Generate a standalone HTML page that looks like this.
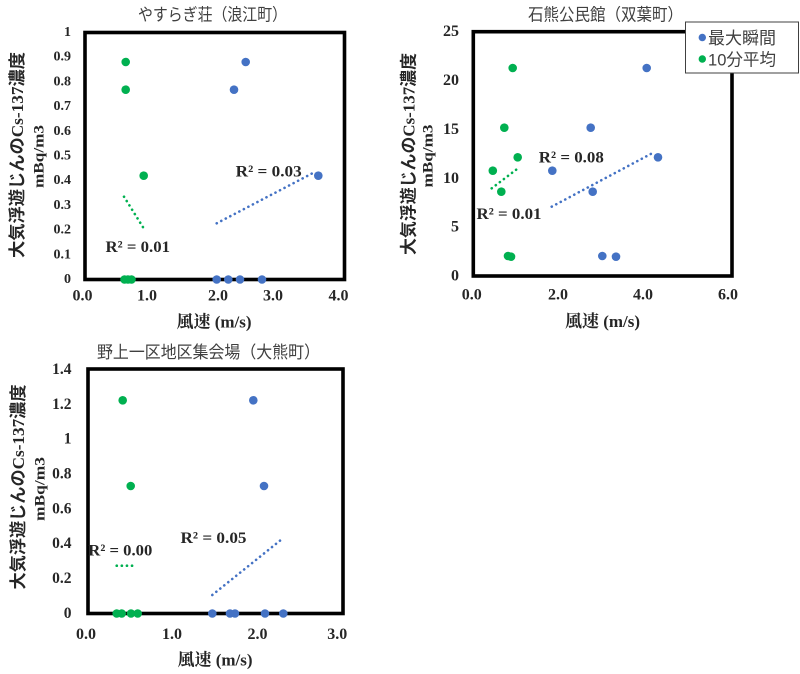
<!DOCTYPE html>
<html>
<head>
<meta charset="utf-8">
<style>
  html,body{margin:0;padding:0;background:#fff;}
  svg{display:block;}
  .tt{font-family:"Liberation Sans","Noto Sans CJK JP",sans-serif;font-size:17px;fill:#404040;}
  .yt{font-family:"Liberation Serif","Noto Serif CJK SC",serif;font-weight:bold;fill:#262626;text-anchor:end;dominant-baseline:central;}
  .xt{font-family:"Liberation Serif","Noto Serif CJK SC",serif;font-weight:bold;font-size:16px;fill:#262626;text-anchor:middle;dominant-baseline:central;}
  .r2{font-family:"Liberation Serif",serif;font-weight:bold;font-size:16px;fill:#262626;dominant-baseline:central;}
  .xa{font-family:"Liberation Serif","Noto Serif CJK SC",serif;font-weight:bold;font-size:17px;fill:#262626;text-anchor:middle;dominant-baseline:central;}
  .ya1{font-family:"Liberation Serif","Noto Sans CJK JP",sans-serif;font-weight:bold;font-size:17px;fill:#262626;text-anchor:middle;dominant-baseline:central;}
  .ya2{font-family:"Liberation Serif",serif;font-weight:bold;font-size:15px;fill:#262626;text-anchor:middle;dominant-baseline:central;}
  .lg{font-family:"Liberation Sans","Noto Sans CJK JP",sans-serif;font-size:17px;fill:#404040;dominant-baseline:central;}
  .b{fill:#4472C4;}
  .g{fill:#00B050;}
  .tb{stroke:#4472C4;stroke-width:2.6;stroke-linecap:round;stroke-dasharray:0.1 5;fill:none;}
  .tg{stroke:#00B050;stroke-width:2.6;stroke-linecap:round;stroke-dasharray:0.1 5;fill:none;}
  .box{fill:none;stroke:#000;stroke-width:3.6;}
</style>
</head>
<body>
<svg width="800" height="674" viewBox="0 0 800 674" xmlns="http://www.w3.org/2000/svg">
  <rect x="0" y="0" width="800" height="674" fill="#fff"/>

  <!-- ================= Chart 1 ================= -->
  <text class="tt" x="138" y="15" dominant-baseline="central" textLength="149" lengthAdjust="spacingAndGlyphs">やすらぎ荘（浪江町）</text>
  <rect class="box" x="85" y="32.5" width="259.5" height="247"/>
  <!-- y ticks -->
  <g class="yt" font-size="14">
    <text x="71" y="32.5">1</text>
    <text x="71" y="57.2">0.9</text>
    <text x="71" y="81.9">0.8</text>
    <text x="71" y="106.6">0.7</text>
    <text x="71" y="131.3">0.6</text>
    <text x="71" y="156">0.5</text>
    <text x="71" y="180.7">0.4</text>
    <text x="71" y="205.4">0.3</text>
    <text x="71" y="230.1">0.2</text>
    <text x="71" y="254.8">0.1</text>
    <text x="71" y="279.5">0</text>
  </g>
  <g class="xt">
    <text x="82.5" y="296">0.0</text>
    <text x="147" y="296">1.0</text>
    <text x="218" y="296">2.0</text>
    <text x="273" y="296">3.0</text>
    <text x="338.5" y="296">4.0</text>
  </g>
  <text class="xa" x="214" y="322" textLength="75" lengthAdjust="spacingAndGlyphs">風速 (m/s)</text>
  <text class="ya1" x="17.5" y="155" transform="rotate(-90 17.5 155)" textLength="206" lengthAdjust="spacingAndGlyphs">大気浮遊じんのCs-137濃度</text>
  <text class="ya2" x="39.5" y="156.5" transform="rotate(-90 39.5 156.5)" textLength="63" lengthAdjust="spacingAndGlyphs">mBq/m3</text>
  <!-- trendlines -->
  <line class="tg" x1="124" y1="196.7" x2="143.5" y2="228"/>
  <line class="tb" x1="216.7" y1="223.3" x2="312" y2="173.5"/>
  <!-- points -->
  <g class="g">
    <circle cx="125.7" cy="62" r="4.3"/>
    <circle cx="125.7" cy="89.7" r="4.3"/>
    <circle cx="143.7" cy="175.7" r="4.3"/>
    <circle cx="124.5" cy="279.5" r="4.3"/>
    <circle cx="128" cy="279.5" r="4.3"/>
    <circle cx="131.5" cy="279.5" r="4.3"/>
  </g>
  <g class="b">
    <circle cx="245.7" cy="62" r="4.3"/>
    <circle cx="234" cy="89.7" r="4.3"/>
    <circle cx="318.3" cy="175.7" r="4.3"/>
    <circle cx="216.7" cy="279.5" r="4.3"/>
    <circle cx="228.3" cy="279.5" r="4.3"/>
    <circle cx="240" cy="279.5" r="4.3"/>
    <circle cx="262" cy="279.5" r="4.3"/>
  </g>
  <text class="r2" x="235.7" y="172" textLength="66" lengthAdjust="spacingAndGlyphs">R² = 0.03</text>
  <text class="r2" x="105.5" y="247.3" textLength="64.5" lengthAdjust="spacingAndGlyphs">R² = 0.01</text>

  <!-- ================= Chart 2 ================= -->
  <text class="tt" x="528" y="15" dominant-baseline="central" textLength="155" lengthAdjust="spacingAndGlyphs">石熊公民館（双葉町）</text>
  <rect class="box" x="473.3" y="31.7" width="258.7" height="244.3"/>
  <g class="yt" font-size="16">
    <text x="459" y="31.7">25</text>
    <text x="459" y="80.6">20</text>
    <text x="459" y="129.4">15</text>
    <text x="459" y="178.3">10</text>
    <text x="459" y="227.1">5</text>
    <text x="459" y="276">0</text>
  </g>
  <g class="xt">
    <text x="471.7" y="295">0.0</text>
    <text x="558" y="295">2.0</text>
    <text x="643" y="295">4.0</text>
    <text x="728" y="295">6.0</text>
  </g>
  <text class="xa" x="602.5" y="321.7" textLength="75" lengthAdjust="spacingAndGlyphs">風速 (m/s)</text>
  <text class="ya1" x="409" y="154" transform="rotate(-90 409 154)" textLength="202" lengthAdjust="spacingAndGlyphs">大気浮遊じんのCs-137濃度</text>
  <text class="ya2" x="428.5" y="156" transform="rotate(-90 428.5 156)" textLength="63" lengthAdjust="spacingAndGlyphs">mBq/m3</text>
  <line class="tg" x1="491.7" y1="188.3" x2="516.7" y2="169.3"/>
  <line class="tb" x1="551.7" y1="206.7" x2="655" y2="151.7"/>
  <g class="g">
    <circle cx="512.7" cy="68" r="4.3"/>
    <circle cx="504.3" cy="127.7" r="4.3"/>
    <circle cx="517.7" cy="157.3" r="4.3"/>
    <circle cx="492.8" cy="170.7" r="4.3"/>
    <circle cx="501.3" cy="191.7" r="4.3"/>
    <circle cx="508" cy="256" r="4.3"/>
    <circle cx="511" cy="256.7" r="4.3"/>
  </g>
  <g class="b">
    <circle cx="646.7" cy="68" r="4.3"/>
    <circle cx="590.7" cy="127.7" r="4.3"/>
    <circle cx="658" cy="157.3" r="4.3"/>
    <circle cx="552.3" cy="170.7" r="4.3"/>
    <circle cx="592.7" cy="191.7" r="4.3"/>
    <circle cx="602.3" cy="256" r="4.3"/>
    <circle cx="616" cy="256.7" r="4.3"/>
  </g>
  <text class="r2" x="538.8" y="157.8" textLength="65" lengthAdjust="spacingAndGlyphs">R² = 0.08</text>
  <text class="r2" x="476.5" y="214.7" textLength="65" lengthAdjust="spacingAndGlyphs">R² = 0.01</text>
  <!-- legend -->
  <rect x="685.5" y="22" width="113" height="51" fill="#fff" stroke="#404040" stroke-width="1"/>
  <circle class="b" cx="702.3" cy="37.5" r="3.7"/>
  <text class="lg" x="708" y="38.3" textLength="68" lengthAdjust="spacingAndGlyphs">最大瞬間</text>
  <circle class="g" cx="702.3" cy="59" r="3.7"/>
  <text class="lg" x="708" y="60" textLength="68" lengthAdjust="spacingAndGlyphs">10分平均</text>

  <!-- ================= Chart 3 ================= -->
  <text class="tt" x="97" y="352.7" dominant-baseline="central" textLength="223" lengthAdjust="spacingAndGlyphs">野上一区地区集会場（大熊町）</text>
  <rect class="box" x="88" y="369" width="255" height="244.5"/>
  <g class="yt" font-size="15.5">
    <text x="71.5" y="369.5">1.4</text>
    <text x="71.5" y="404.4">1.2</text>
    <text x="71.5" y="439.2">1</text>
    <text x="71.5" y="474">0.8</text>
    <text x="71.5" y="508.9">0.6</text>
    <text x="71.5" y="543.7">0.4</text>
    <text x="71.5" y="578.6">0.2</text>
    <text x="71.5" y="613.5">0</text>
  </g>
  <g class="xt">
    <text x="86" y="634.5">0.0</text>
    <text x="172" y="634.5">1.0</text>
    <text x="257.5" y="634.5">2.0</text>
    <text x="337.3" y="634.5">3.0</text>
  </g>
  <text class="xa" x="215" y="660" textLength="75" lengthAdjust="spacingAndGlyphs">風速 (m/s)</text>
  <text class="ya1" x="18.5" y="487" transform="rotate(-90 18.5 487)" textLength="205" lengthAdjust="spacingAndGlyphs">大気浮遊じんのCs-137濃度</text>
  <text class="ya2" x="40.5" y="489" transform="rotate(-90 40.5 489)" textLength="64" lengthAdjust="spacingAndGlyphs">mBq/m3</text>
  <line class="tg" x1="116.7" y1="565.7" x2="136.5" y2="565.7"/>
  <line class="tb" x1="212.3" y1="595" x2="281.7" y2="539.3"/>
  <g class="g">
    <circle cx="122.7" cy="400.3" r="4.3"/>
    <circle cx="130.7" cy="486" r="4.3"/>
    <circle cx="116.7" cy="613.5" r="4.3"/>
    <circle cx="121.7" cy="613.5" r="4.3"/>
    <circle cx="131" cy="613.5" r="4.3"/>
    <circle cx="137.7" cy="613.5" r="4.3"/>
  </g>
  <g class="b">
    <circle cx="253.3" cy="400.3" r="4.3"/>
    <circle cx="264" cy="486" r="4.3"/>
    <circle cx="212.3" cy="613.5" r="4.3"/>
    <circle cx="230" cy="613.5" r="4.3"/>
    <circle cx="235" cy="613.5" r="4.3"/>
    <circle cx="265" cy="613.5" r="4.3"/>
    <circle cx="283.3" cy="613.5" r="4.3"/>
  </g>
  <text class="r2" x="88.3" y="551" textLength="64" lengthAdjust="spacingAndGlyphs">R² = 0.00</text>
  <text class="r2" x="180.5" y="538.5" textLength="66" lengthAdjust="spacingAndGlyphs">R² = 0.05</text>
</svg>
</body>
</html>
